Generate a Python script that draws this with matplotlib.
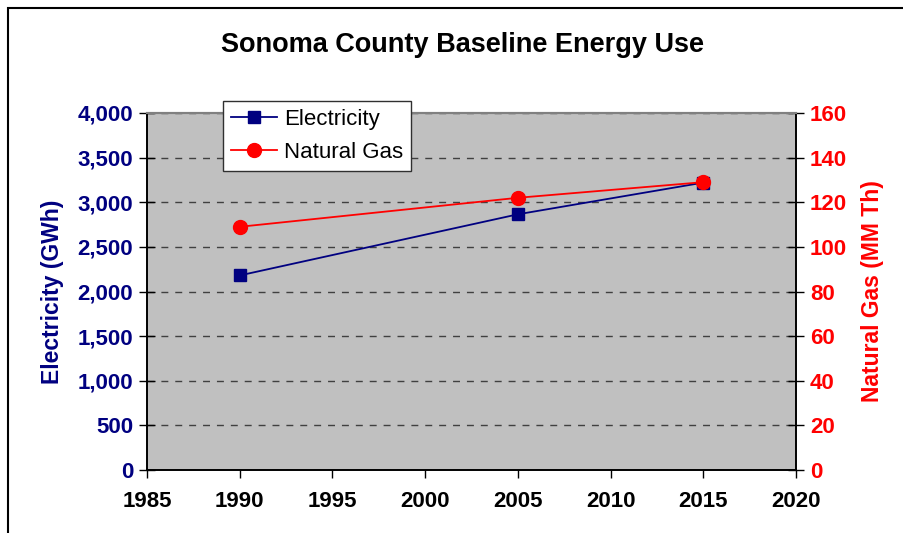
import matplotlib.pyplot as plt
from matplotlib.patches import Rectangle
from matplotlib.ticker import FuncFormatter

plt.rcParams['font.family'] = ['Liberation Sans', 'DejaVu Sans']

# data
years = [1990, 2005, 2015]
electricity = [2180, 2865, 3220]   # GWh
natural_gas = [109, 122, 129]      # MM Th

fig = plt.figure(figsize=(9.04, 5.33), dpi=100)
ax = fig.add_axes([147/904, 1-470/533, (796-147)/904, (470-113)/533])
ax.set_facecolor('#C0C0C0')

# outer frame of the chart area
fig.patches.append(Rectangle((8/904, -0.1), 1.2, 1 - 8/533 + 0.1, transform=fig.transFigure,
                             fill=False, edgecolor='black', linewidth=1.5))

ax.set_xlim(1985, 2020)
ax.set_ylim(0, 4000)
ax.set_xticks(range(1985, 2021, 5))
ax.set_yticks(range(0, 4001, 500))
ax.yaxis.set_major_formatter(FuncFormatter(lambda v, p: f'{int(v):,}'))
ax.grid(axis='y', color='#404040', linestyle=(0, (5, 5)), linewidth=1)
ax.set_axisbelow(True)

l1, = ax.plot(years, electricity, color='#000080', marker='s', markersize=9,
              linewidth=1.3, label='Electricity', zorder=3)

ax2 = ax.twinx()
ax2.set_ylim(0, 160)
ax2.set_yticks(range(0, 161, 20))
l2, = ax2.plot(years, natural_gas, color='#FF0000', marker='o', markersize=10,
               linewidth=1.3, label='Natural Gas', zorder=3)

for a in (ax, ax2):
    for s in ['left', 'right', 'bottom']:
        a.spines[s].set_color('black')
        a.spines[s].set_linewidth(1.2)
    a.spines['top'].set_color('#808080')
    a.spines['top'].set_linewidth(1.5)

ax.tick_params(axis='y', direction='inout', length=12, width=1, colors='#000080',
               labelsize=16, pad=4)
ax.tick_params(axis='x', direction='out', length=6, width=1, labelsize=16, pad=9)
ax2.tick_params(axis='y', direction='inout', length=12, width=1, colors='#FF0000',
                labelsize=16, pad=4)
for lab in ax.get_yticklabels() + ax.get_xticklabels() + ax2.get_yticklabels():
    lab.set_fontweight('bold')
ax.tick_params(axis='y', color='black')
ax2.tick_params(axis='y', color='black')
ax.tick_params(axis='x', color='black')

ax.set_ylabel('Electricity (GWh)', color='#000080', fontsize=16.5, fontweight='bold', labelpad=10)
ax2.set_ylabel('Natural Gas (MM Th)', color='#FF0000', fontsize=16.5, fontweight='bold', labelpad=10)

fig.text(0.512, 0.915, 'Sonoma County Baseline Energy Use', ha='center', va='center',
         fontsize=19.5, fontweight='bold')

leg = ax2.legend(handles=[l1, l2], loc='upper left', bbox_to_anchor=(0.117, 1.034),
                 borderaxespad=0, fontsize=16, frameon=True, fancybox=False,
                 edgecolor='#303030', facecolor='white', framealpha=1,
                 handlelength=2.1, handletextpad=0.3, borderpad=0.35,
                 labelspacing=0.55)
leg.get_frame().set_linewidth(1)

fig.savefig('out.png', dpi=100)
